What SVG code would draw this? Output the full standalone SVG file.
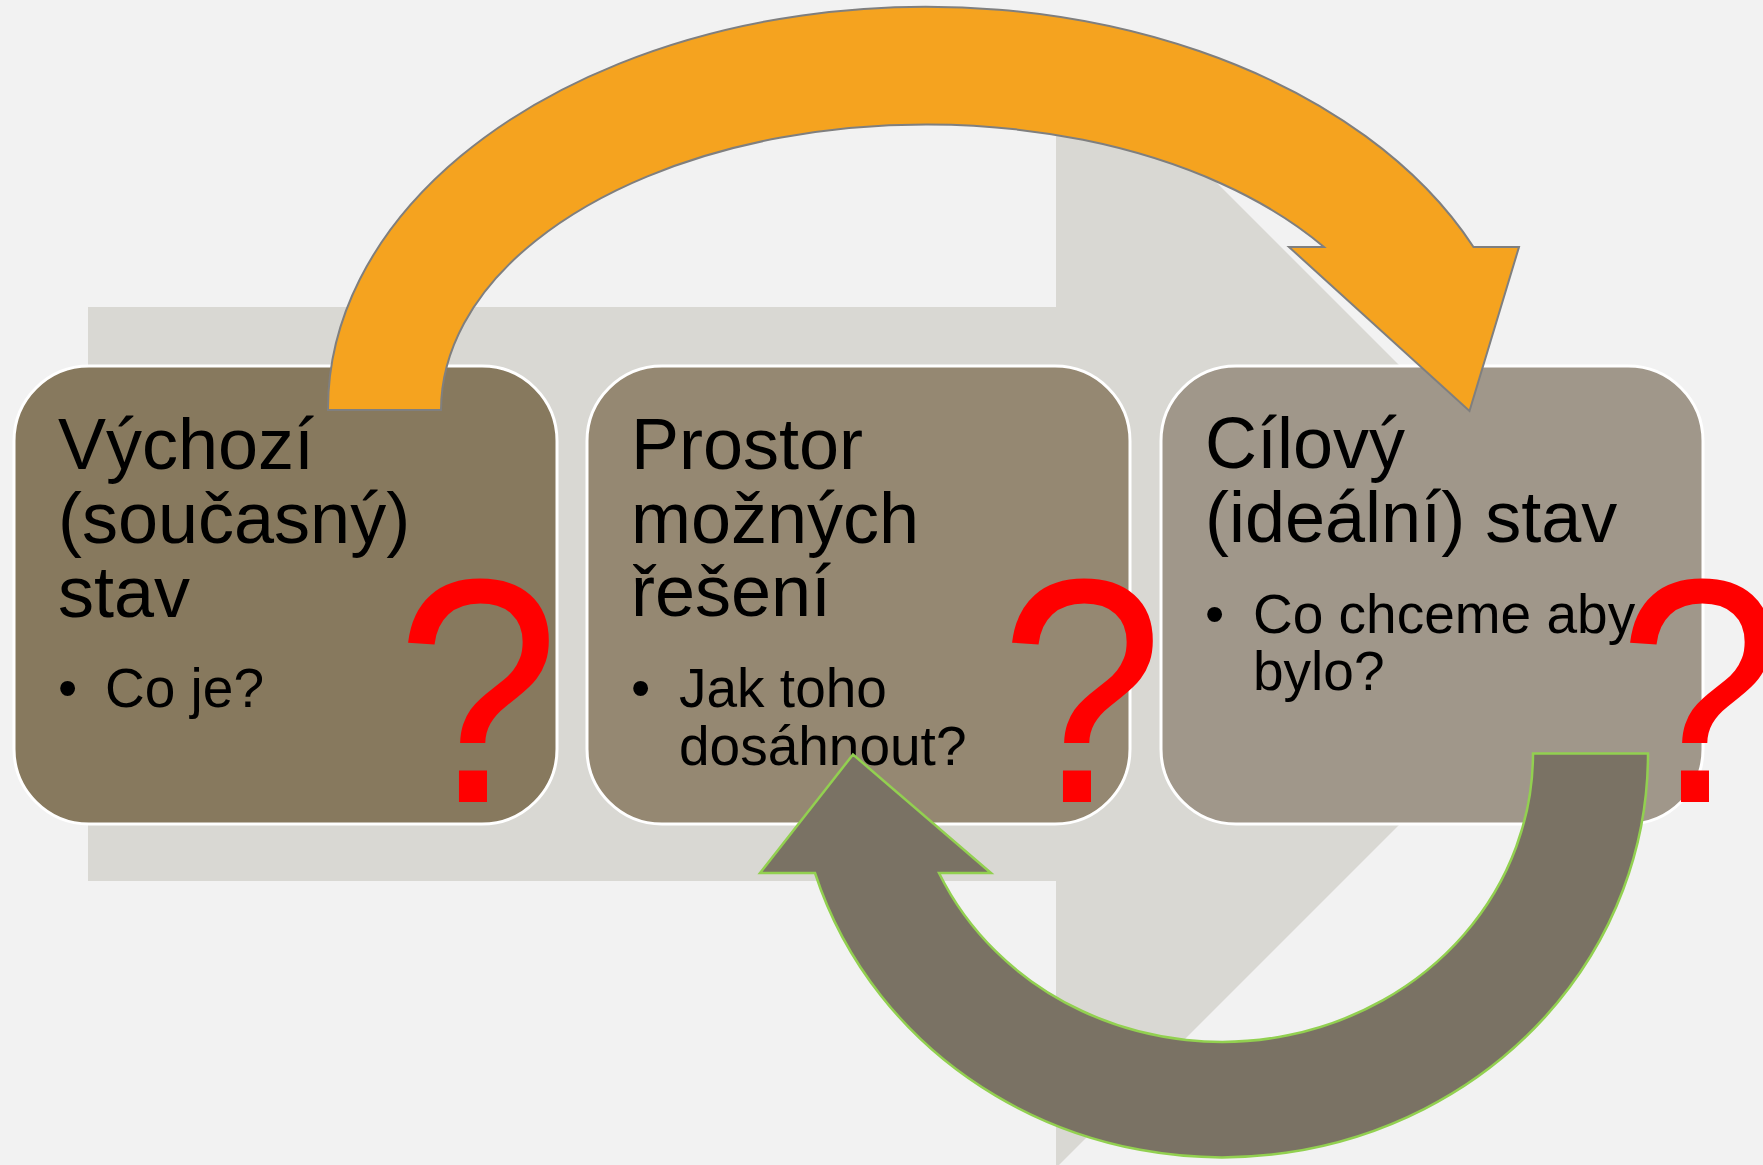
<svg xmlns="http://www.w3.org/2000/svg" width="1763" height="1165" viewBox="0 0 1763 1165">
<style>
.box{stroke:#ffffff;stroke-width:3}
.t{font-family:"Liberation Sans",Arial,sans-serif;fill:#000}
.title{font-size:72px}
.bul{font-size:55px}
.q{font-family:"Liberation Sans",Arial,sans-serif;font-size:320px;fill:#ff0000}
</style>
<rect x="0" y="0" width="1763" height="1165" fill="#f2f2f2"/>
<g id="backdrop-arrow">
<path d="M88 307 L1056 307 L1056 22 L1629 595 L1056 1168 L1056 881 L88 881 Z" fill="#d9d8d3"/>
</g>
<g id="node-vychozi">
<rect class="box" x="14" y="366" width="543" height="458" rx="75" ry="75" fill="#87795e"/>
<text class="t title" x="58" y="469">Výchozí</text>
<text class="t title" x="58" y="543">(současný)</text>
<text class="t title" x="58" y="617">stav</text>
<text class="t bul" x="58" y="707">•</text>
<text class="t bul" x="105" y="707">Co je?</text>
<text class="q" transform="translate(396 802) scale(0.92 1)">?</text>
</g>
<g id="node-prostor">
<rect class="box" x="587" y="366" width="543" height="458" rx="75" ry="75" fill="#958872"/>
<text class="t title" x="631" y="469">Prostor</text>
<text class="t title" x="631" y="543">možných</text>
<text class="t title" x="631" y="616">řešení</text>
<text class="t bul" x="631" y="707">•</text>
<text class="t bul" x="679" y="707">Jak toho</text>
<text class="t bul" x="679" y="765">dosáhnout?</text>
</g>
<g id="node-cilovy">
<rect class="box" x="1161" y="366" width="542" height="458" rx="75" ry="75" fill="#a0978a"/>
<text class="t title" x="1205" y="468">Cílový</text>
<text class="t title" x="1205" y="542">(ideální) stav</text>
<text class="t bul" x="1205" y="633">•</text>
<text class="t bul" x="1253" y="633">Co chceme aby</text>
<text class="t bul" x="1253" y="690">bylo?</text>
</g>
<g id="connectors">
<path d="M328 410 A598 402 0 0 1 1473.5 247 L1519 247 L1469.5 411 L1289 247 L1324 247 A485 286 0 0 0 441 410 Z" fill="#f5a31f" stroke="#7f7f7f" stroke-width="2"/>
<path d="M1648 753.5 A426 403.5 0 0 1 815 873 L760 873 L853 754.5 L991 873 L939 873 A311 288.5 0 0 0 1533 753.5 Z" fill="#7a7264" stroke="#92d050" stroke-width="2.5"/>
</g>
<g id="marks">
<text class="q" transform="translate(1000 802) scale(0.92 1)">?</text>
<text class="q" transform="translate(1618 802) scale(0.92 1)">?</text>
</g>
</svg>
